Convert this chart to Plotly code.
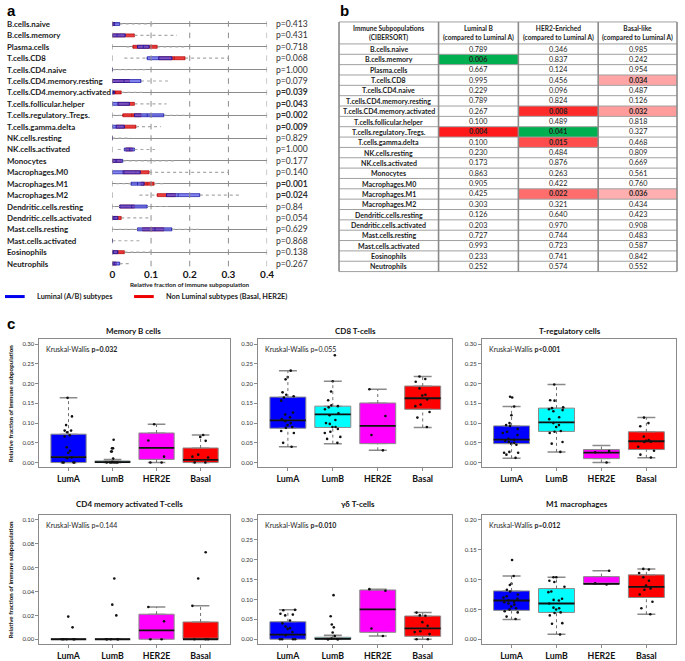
import plotly.graph_objects as go

FONT = "Lato"
W, H = 685, 661


def px(x):
    return x / W


def py(y):
    return 1 - y / H


# ---------------- Panel a data ----------------
cell_types = ["B.cells.naive", "B.cells.memory", "Plasma.cells", "T.cells.CD8", "T.cells.CD4.naive",
              "T.cells.CD4.memory.resting", "T.cells.CD4.memory.activated", "T.cells.follicular.helper",
              "T.cells.regulatory..Tregs.", "T.cells.gamma.delta", "NK.cells.resting", "NK.cells.activated",
              "Monocytes", "Macrophages.M0", "Macrophages.M1", "Macrophages.M2", "Dendritic.cells.resting",
              "Dendritic.cells.activated", "Mast.cells.resting", "Mast.cells.activated", "Eosinophils",
              "Neutrophils"]
whisk_lo = [0, 0, 0.036, 0.031, 0, 0, 0, 0, 0, 0, 0, 0.014, 0, 0, 0.01, 0.07, 0, 0, 0, 0, 0, 0]
whisk_hi = [0.11, 0.167, 0.19, 0.30, 0.09, 0.15, 0.078, 0.14, 0.20, 0.125, 0.048, 0.11, 0.167, 0.30,
            0.133, 0.332, 0.15, 0.10, 0.23, 0.07, 0.10, 0.048]
lum_q1 = [0, 0, 0.065, 0.09, 0, 0, 0, 0, 0.057, 0, 0, 0.031, 0, 0, 0.048, 0.14, 0.019, 0, 0.065, 0, 0, 0]
lum_med = [0.005, 0.012, 0.08, 0.12, 0, 0.03, 0, 0.015, 0.09, 0.01, 0, 0.045, 0.01, 0.03, 0.065, 0.17,
           0.05, 0.004, 0.11, 0, 0.003, 0.005]
lum_q3 = [0.019, 0.033, 0.095, 0.154, 0, 0.074, 0.005, 0.044, 0.133, 0.031, 0, 0.057, 0.027, 0.072,
          0.082, 0.226, 0.09, 0.014, 0.154, 0, 0.014, 0.019]
non_q1 = [0, 0, 0.053, 0.12, 0, 0, 0, 0.014, 0.027, 0.01, 0, 0.035, 0, 0.027, 0.074, 0.116, 0.019, 0,
          0.078, 0, 0, 0]
non_med = [0.002, 0.02, 0.085, 0.16, 0, 0.02, 0.008, 0.035, 0.05, 0.03, 0, 0.045, 0.008, 0.06, 0.09,
           0.14, 0.035, 0.008, 0.11, 0, 0.012, 0.003]
non_q3 = [0.006, 0.057, 0.116, 0.188, 0, 0.044, 0.023, 0.057, 0.074, 0.061, 0, 0.052, 0.023, 0.095,
          0.108, 0.163, 0.057, 0.023, 0.133, 0, 0.031, 0.01]
pvals_a = ["0.413", "0.431", "0.718", "0.068", "1.000", "0.079", "0.039", "0.043", "0.002", "0.009",
           "0.829", "1.000", "0.177", "0.140", "0.001", "0.024", "0.84", "0.054", "0.629", "0.868",
           "0.138", "0.267"]
a_ticks = [0, 0.1, 0.2, 0.3, 0.4]
a_ticklabels = ["0", "0.1", "0.2", "0.3", "0.4"]

# ---------------- Panel b data ----------------
table_headers = ["Immune Subpopulations<br>(CIBERSORT)", "Luminal B<br>(compared to Luminal A)",
                 "HER2-Enriched<br>(compared to Luminal A)", "Basal-like<br>(compared to Luminal A)"]
p_lumB = [0.789, 0.006, 0.667, 0.995, 0.229, 0.789, 0.267, 0.100, 0.004, 0.100, 0.230, 0.173, 0.863,
          0.905, 0.425, 0.303, 0.126, 0.203, 0.727, 0.993, 0.233, 0.252]
p_her2 = [0.346, 0.837, 0.124, 0.456, 0.096, 0.824, 0.008, 0.489, 0.041, 0.015, 0.484, 0.876, 0.263,
          0.422, 0.022, 0.321, 0.640, 0.970, 0.744, 0.723, 0.741, 0.574]
p_basal = [0.985, 0.242, 0.954, 0.034, 0.487, 0.126, 0.032, 0.818, 0.327, 0.468, 0.809, 0.669, 0.561,
           0.760, 0.036, 0.434, 0.423, 0.908, 0.483, 0.587, 0.842, 0.552]
higher_cells = [("B.cells.memory", 1), ("T.cells.regulatory..Tregs.", 2)]

# ---------------- Panel c data ----------------
groups = ["LumA", "LumB", "HER2E", "Basal"]
group_colors = ["#0000ff", "#00ffff", "#ff00ff", "#ff0000"]

c_titles = ["Memory B cells", "CD8 T-cells", "T-regulatory cells",
            "CD4 memory activated T-cells", "γδ T-cells", "M1 macrophages"]
c_pvals = ["<b>p=0.032</b>", "p=0.055", "<b>p&lt;0.001</b>", "p=0.144", "<b>p=0.010</b>", "<b>p=0.012</b>"]
c_ymax = [0.30, 0.30, 0.30, 0.10, 0.30, 0.20]
c_dtick = [0.05, 0.05, 0.05, 0.02, 0.05, 0.05]

memB_lo = [0, 0, 0, 0]
memB_q1 = [0, 0, 0.008, 0]
memB_med = [0.014, 0.001, 0.037, 0.007]
memB_q3 = [0.072, 0.004, 0.075, 0.037]
memB_hi = [0.164, 0.008, 0.097, 0.070]
memB_pts = [[0.164, 0.117, 0.095, 0.081, 0.081, 0.077, 0.069, 0.066, 0.039, 0.030, 0.025, 0.013, 0.011, 0, 0, 0, 0],
            [0.058, 0.036, 0.036, 0.028, 0.028, 0.010, 0.002, 0, 0, 0, 0, 0, 0],
            [0.097, 0.056, 0.015, 0, 0],
            [0.070, 0.065, 0.055, 0.020, 0.015, 0.013, 0, 0]]

cd8_lo = [0.040, 0.048, 0.031, 0.089]
cd8_q1 = [0.087, 0.089, 0.048, 0.135]
cd8_med = [0.107, 0.122, 0.093, 0.163]
cd8_q3 = [0.166, 0.143, 0.151, 0.194]
cd8_hi = [0.233, 0.206, 0.186, 0.218]
cd8_pts = [[0.233, 0.217, 0.211, 0.178, 0.172, 0.168, 0.165, 0.157, 0.127, 0.122, 0.115, 0.110, 0.105, 0.100,
            0.095, 0.090, 0.088, 0.080, 0.075, 0.050, 0.040],
           [0.272, 0.206, 0.180, 0.158, 0.145, 0.143, 0.140, 0.135, 0.125, 0.120, 0.108, 0.100, 0.098, 0.090,
            0.090, 0.085, 0.078, 0.075, 0.065, 0.060, 0.050],
           [0.186, 0.118, 0.070, 0.031],
           [0.218, 0.212, 0.205, 0.188, 0.172, 0.170, 0.160, 0.147, 0.143, 0.128, 0.114, 0.090]]

treg_lo = [0.011, 0.027, 0.0, 0.012]
treg_q1 = [0.048, 0.079, 0.010, 0.033]
treg_med = [0.058, 0.102, 0.025, 0.054]
treg_q3 = [0.093, 0.138, 0.033, 0.078]
treg_hi = [0.142, 0.198, 0.043, 0.114]
treg_pts = [[0.167, 0.165, 0.142, 0.120, 0.100, 0.095, 0.093, 0.085, 0.078, 0.075, 0.070, 0.060, 0.058, 0.055,
             0.052, 0.050, 0.048, 0.045, 0.027, 0.025, 0.025, 0.020, 0.012],
            [0.198, 0.158, 0.157, 0.140, 0.138, 0.135, 0.133, 0.130, 0.115, 0.110, 0.100, 0.095, 0.090, 0.080,
             0.078, 0.075, 0.052, 0.048, 0.027],
            [0.029, 0.026, 0.0],
            [0.114, 0.100, 0.092, 0.066, 0.057, 0.055, 0.053, 0.052, 0.040, 0.030, 0.020, 0.013]]

cd4a_lo = [0, 0, 0, 0]
cd4a_q1 = [0, 0, 0, 0]
cd4a_med = [0, 0, 0.0075, 0]
cd4a_q3 = [0, 0, 0.021, 0.0145]
cd4a_hi = [0, 0, 0.027, 0.028]
cd4a_pts = [[0.019, 0.010, 0, 0, 0, 0, 0],
            [0.051, 0.029, 0.020, 0, 0, 0, 0, 0],
            [0.027, 0.015, 0, 0],
            [0.073, 0.051, 0.028, 0, 0, 0]]

gd_lo = [0, 0, 0.008, 0]
gd_q1 = [0, 0, 0.0175, 0.0075]
gd_med = [0.0117, 0.001, 0.075, 0.0276]
gd_q3 = [0.044, 0.005, 0.124, 0.0585]
gd_hi = [0.074, 0.010, 0.126, 0.067]
gd_pts = [[0.074, 0.073, 0.064, 0.062, 0.060, 0.047, 0.040, 0.032, 0.028, 0.026, 0.018, 0.010, 0, 0, 0, 0],
          [0.111, 0.058, 0.037, 0.030, 0.017, 0.008, 0.002, 0, 0, 0, 0],
          [0.126, 0.122, 0.027, 0.008],
          [0.067, 0.060, 0.059, 0.043, 0.034, 0.020, 0.018, 0.013, 0, 0]]

m1_lo = [0.033, 0.0084, 0.0925, 0.042]
m1_q1 = [0.0485, 0.045, 0.0925, 0.070]
m1_med = [0.065, 0.060, 0.093, 0.088]
m1_q3 = [0.081, 0.085, 0.105, 0.108]
m1_hi = [0.106, 0.104, 0.115, 0.118]
m1_pts = [[0.133, 0.106, 0.093, 0.091, 0.083, 0.080, 0.075, 0.072, 0.070, 0.068, 0.065, 0.063, 0.062, 0.060,
           0.058, 0.055, 0.052, 0.050, 0.047, 0.045, 0.038, 0.034],
          [0.104, 0.104, 0.098, 0.096, 0.088, 0.080, 0.079, 0.068, 0.066, 0.065, 0.060, 0.053, 0.052, 0.050,
           0.045, 0.044, 0.040, 0.027, 0.026, 0.008],
          [0.115, 0.094, 0.092],
          [0.118, 0.117, 0.111, 0.104, 0.098, 0.090, 0.085, 0.083, 0.075, 0.063, 0.052, 0.042]]

c_stats = [
    (memB_lo, memB_q1, memB_med, memB_q3, memB_hi, memB_pts),
    (cd8_lo, cd8_q1, cd8_med, cd8_q3, cd8_hi, cd8_pts),
    (treg_lo, treg_q1, treg_med, treg_q3, treg_hi, treg_pts),
    (cd4a_lo, cd4a_q1, cd4a_med, cd4a_q3, cd4a_hi, cd4a_pts),
    (gd_lo, gd_q1, gd_med, gd_q3, gd_hi, gd_pts),
    (m1_lo, m1_q1, m1_med, m1_q3, m1_hi, m1_pts),
]

# ---------------- Layout geometry (pixels) ----------------
c_cols = [(37, 230), (259, 456), (486, 683)]
c_rows = [(340, 468), (516, 645)]
c_title_x = [132, 358, 575, 128, 360, 583]
c_title_y = [332, 505]
tbl_x = [341, 442, 523, 604, 684]
tbl_top, tbl_head, tbl_bottom = 22, 44, 272

fig = go.Figure()
annotations = []
shapes = []

# ================= Panel a =================
a_gray = "#8c8c8c"
tx, ty = [], []
for r in cell_types:
    for t in a_ticks:
        tx.append(t)
        ty.append(r)
fig.add_trace(go.Scatter(x=tx, y=ty, mode="markers", xaxis="x", yaxis="y", hoverinfo="skip",
                         marker=dict(symbol="line-ns", size=4, line=dict(width=1, color=a_gray))))
wx, wy = [], []
for i, r in enumerate(cell_types):
    lo_box = min(lum_q1[i], non_q1[i])
    hi_box = max(lum_q3[i], non_q3[i])
    wx += [whisk_lo[i], lo_box, None, hi_box, whisk_hi[i], None]
    wy += [r, r, None, r, r, None]
fig.add_trace(go.Scatter(x=wx, y=wy, mode="lines", xaxis="x", yaxis="y", hoverinfo="skip",
                         line=dict(color="#a8a8a8", width=1.2, dash="dot")))
fig.add_trace(go.Box(y=cell_types, q1=non_q1, median=non_med, q3=non_q3, lowerfence=non_q1,
                     upperfence=non_q3, orientation="h", xaxis="x", yaxis="y", width=0.26,
                     fillcolor="rgba(235,40,40,0.9)", line=dict(color="#b00000", width=0.7),
                     boxpoints=False, hoverinfo="skip"))
fig.add_trace(go.Box(y=cell_types, q1=lum_q1, median=lum_med, q3=lum_q3, lowerfence=lum_q1,
                     upperfence=lum_q3, orientation="h", xaxis="x", yaxis="y", width=0.26,
                     fillcolor="rgba(90,90,235,0.75)", line=dict(color="#1010a0", width=0.7),
                     boxpoints=False, hoverinfo="skip"))

sig_a = {"0.039", "0.043", "0.002", "0.009", "0.001", "0.024"}
for i, r in enumerate(cell_types):
    annotations.append(dict(text=f"<b>{r}</b>", x=px(2), xref="paper", y=r, yref="y", xanchor="left",
                            yanchor="middle", showarrow=False, font=dict(family=FONT, size=7.9, color="#1a1a1a")))
    ptxt = f"p={pvals_a[i]}"
    if pvals_a[i] in sig_a:
        ptxt = f"<b>{ptxt}</b>"
    annotations.append(dict(text=ptxt, x=px(275), xref="paper", y=r, yref="y", xanchor="left",
                            yanchor="middle", showarrow=False, font=dict(family=FONT, size=8.6, color="#333333")))

annotations.append(dict(text="<b>Relative fraction of immune subpopulation</b>", x=px(189.5), y=py(285),
                        xref="paper", yref="paper", showarrow=False, xanchor="center", yanchor="middle",
                        font=dict(family=FONT, size=6.3, color="#1a1a1a")))
shapes.append(dict(type="line", xref="paper", yref="paper", x0=px(2), x1=px(22), y0=py(297), y1=py(297),
                   line=dict(color="#0000ee", width=3)))
shapes.append(dict(type="line", xref="paper", yref="paper", x0=px(133), x1=px(153), y0=py(297), y1=py(297),
                   line=dict(color="#ee0000", width=3)))
annotations.append(dict(text="<b>Luminal (A/B) subtypes</b>", x=px(32), y=py(297), xref="paper", yref="paper",
                        showarrow=False, xanchor="left", yanchor="middle",
                        font=dict(family=FONT, size=7.3, color="#1a1a1a")))
annotations.append(dict(text="<b>Non Luminal subtypes (Basal, HER2E)</b>", x=px(163), y=py(297), xref="paper",
                        yref="paper", showarrow=False, xanchor="left", yanchor="middle",
                        font=dict(family=FONT, size=7.3, color="#1a1a1a")))

# ================= Panel b (table drawn with shapes + text) =================
pcols = [p_lumB, p_her2, p_basal]


def red_shade(p):
    g = int(25 + (p - 0.004) / 0.032 * 150)
    g = max(20, min(185, g))
    return f"rgb(255,{g},{g})"


n_rows = len(cell_types)
row_h = (tbl_bottom - tbl_head) / n_rows
col_cx = [(tbl_x[i] + tbl_x[i + 1]) / 2 for i in range(4)]
for ci, h in enumerate(table_headers):
    annotations.append(dict(text=f"<b>{h}</b>", x=px(col_cx[ci]), y=py((tbl_top + tbl_head) / 2),
                            xref="paper", yref="paper", showarrow=False, xanchor="center", yanchor="middle",
                            font=dict(family=FONT, size=6.6, color="#222222")))
for ri, r in enumerate(cell_types):
    yt = tbl_head + ri * row_h
    yc = yt + row_h / 2
    annotations.append(dict(text=f"<b>{r}</b>", x=px(col_cx[0]), y=py(yc), xref="paper", yref="paper",
                            showarrow=False, xanchor="center", yanchor="middle",
                            font=dict(family=FONT, size=7.0, color="#222222")))
    for ci, col in enumerate(pcols):
        p = col[ri]
        txt = f"{p:.3f}"
        if p < 0.05:
            txt = f"<b>{txt}</b>"
            fill = "#00b050" if (r, ci + 1) in higher_cells else red_shade(p)
            shapes.append(dict(type="rect", xref="paper", yref="paper", x0=px(tbl_x[ci + 1]),
                               x1=px(tbl_x[ci + 2]), y0=py(yt + row_h), y1=py(yt), fillcolor=fill,
                               line=dict(width=0), layer="below"))
        annotations.append(dict(text=txt, x=px(col_cx[ci + 1]), y=py(yc), xref="paper", yref="paper",
                                showarrow=False, xanchor="center", yanchor="middle",
                                font=dict(family=FONT, size=7.2, color="#222222")))
hlines = [tbl_top, tbl_head] + [tbl_head + (i + 1) * row_h for i in range(n_rows)]
for yv in hlines:
    shapes.append(dict(type="line", xref="paper", yref="paper", x0=px(tbl_x[0]), x1=px(tbl_x[-1]),
                       y0=py(yv), y1=py(yv), line=dict(color="#a0a0a0", width=1)))
for xv in tbl_x:
    shapes.append(dict(type="line", xref="paper", yref="paper", x0=px(xv), x1=px(xv),
                       y0=py(tbl_bottom), y1=py(tbl_top), line=dict(color="#8a8a8a", width=1.6)))

# ================= Panel c =================
layout_axes = {}
for k in range(6):
    ri, ci = divmod(k, 3)
    ax = k + 2
    xa, ya = f"x{ax}", f"y{ax}"
    lo, q1, med, q3, hi, pts = c_stats[k]
    wx, wy = [], []
    for gi, g in enumerate(groups):
        wx += [g, g, None, g, g, None]
        wy += [q3[gi], hi[gi], None, lo[gi], q1[gi], None]
    fig.add_trace(go.Scatter(x=wx, y=wy, mode="lines", xaxis=xa, yaxis=ya, hoverinfo="skip",
                             line=dict(color="#6e6e6e", width=1, dash="dot")))
    for fence in (lo, hi):
        fig.add_trace(go.Box(x=groups, q1=fence, median=fence, q3=fence, lowerfence=fence, upperfence=fence,
                             xaxis=xa, yaxis=ya, width=0.4, fillcolor="rgba(0,0,0,0)",
                             line=dict(color="#8a8a8a", width=1.5), boxpoints=False, hoverinfo="skip"))
    for gi, g in enumerate(groups):
        fig.add_trace(go.Box(x=[g], q1=[q1[gi]], median=[med[gi]], q3=[q3[gi]], lowerfence=[q1[gi]],
                             upperfence=[q3[gi]], xaxis=xa, yaxis=ya, width=0.8, fillcolor=group_colors[gi],
                             line=dict(color="#8a8a8a", width=1), boxpoints=False, hoverinfo="skip"))
    fig.add_trace(go.Box(x=groups, q1=med, median=med, q3=med, lowerfence=med, upperfence=med,
                         xaxis=xa, yaxis=ya, width=0.8, whiskerwidth=0, fillcolor="rgba(0,0,0,0)",
                         line=dict(color="#111111", width=1.8), boxpoints=False, hoverinfo="skip"))
    for gi, g in enumerate(groups):
        fig.add_trace(go.Box(x=[g] * len(pts[gi]), y=pts[gi], xaxis=xa, yaxis=ya, width=0.8,
                             boxpoints="all", jitter=0.55, pointpos=0, fillcolor="rgba(0,0,0,0)",
                             line=dict(width=0, color="rgba(0,0,0,0)"),
                             marker=dict(color="#111111", size=2.6), hoverinfo="skip"))

    x0, x1 = c_cols[ci]
    y0, y1 = c_rows[ri]
    ymax = c_ymax[k]
    pad = ymax * 0.04
    axis_common = dict(showline=True, mirror=True, linecolor="#8a8a8a", linewidth=1, ticks="outside",
                       ticklen=3, tickcolor="#8a8a8a", showgrid=False, zeroline=False)
    layout_axes[f"xaxis{ax}"] = dict(domain=[px(x0), px(x1)], anchor=ya, type="category",
                                     categoryarray=groups, range=[-0.66, 3.66],
                                     tickfont=dict(family=FONT, size=8.8, color="#111111", weight="bold"),
                                     **axis_common)
    layout_axes[f"yaxis{ax}"] = dict(domain=[py(y1), py(y0)], anchor=xa, range=[-pad, ymax + pad],
                                     tickvals=[round(v * c_dtick[k], 4) for v in range(int(round(ymax / c_dtick[k])) + 1)],
                                     tickformat=".2f", tickfont=dict(family=FONT, size=6, color="#333333"),
                                     **axis_common)
    annotations.append(dict(text=f"<b>{c_titles[k]}</b>", x=px(c_title_x[k]), y=py(c_title_y[ri]),
                            xref="paper", yref="paper", showarrow=False, xanchor="center", yanchor="middle",
                            font=dict(family=FONT, size=8, color="#111111")))
    annotations.append(dict(text=f"Kruskal-Wallis {c_pvals[k]}", x=px(x0 + 5), y=py(y0 + 10),
                            xref="paper", yref="paper", showarrow=False, xanchor="left", yanchor="middle",
                            font=dict(family=FONT, size=7, color="#222222")))
    if ci == 0:
        annotations.append(dict(text="<b>Relative fraction of immune subpopulation</b>", x=px(8),
                                y=py((y0 + y1) / 2), xref="paper", yref="paper", showarrow=False,
                                textangle=-90, xanchor="center", yanchor="middle",
                                font=dict(family=FONT, size=6.2, color="#111111")))

for lbl, lx, ly in [("a", 2, 0), ("b", 340, 0), ("c", 2, 313)]:
    annotations.append(dict(text=f"<b>{lbl}</b>", x=px(lx), y=py(ly), xref="paper", yref="paper",
                            showarrow=False, xanchor="left", yanchor="top",
                            font=dict(family="Liberation Sans", size=15, color="#000000")))

fig.update_layout(
    width=W, height=H, margin=dict(l=0, r=0, t=0, b=0), paper_bgcolor="white", plot_bgcolor="white",
    showlegend=False, boxmode="overlay", font=dict(family=FONT),
    xaxis=dict(domain=[px(111), px(268)], range=[0, 0.4], tickvals=a_ticks, ticktext=a_ticklabels,
               showgrid=False, zeroline=False, showline=False, ticks="", anchor="y",
               tickfont=dict(family=FONT, size=10, color="#111111", weight="bold")),
    yaxis=dict(domain=[py(267.4), py(18.3)], type="category", categoryarray=cell_types,
               range=[len(cell_types) - 1 + 0.3, -0.5], showgrid=True, gridcolor="#8c8c8c", gridwidth=1,
               showticklabels=False, zeroline=False, anchor="x"),
    annotations=annotations, shapes=shapes,
    **layout_axes,
)

fig.write_html("out.html", config={"displayModeBar": False},
               post_script="document.body.style.margin='0px';")
